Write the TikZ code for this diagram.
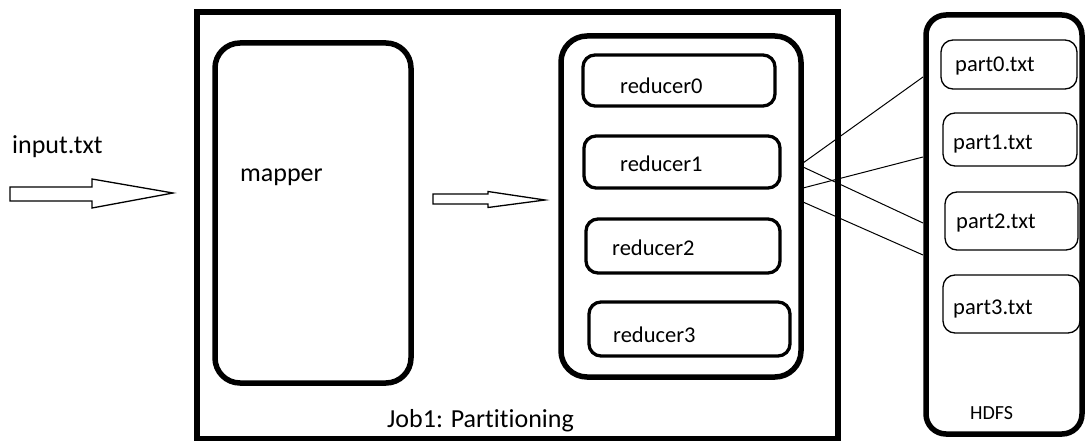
\documentclass[tikz,border=0pt]{standalone}
\usepackage{fontspec}
\setmainfont{Carlito}[Ligatures={NoCommon,NoContextual}]
\newcommand{\nolig}{\kern0pt}
\begin{document}
\begin{tikzpicture}[x=1pt,y=-1pt,
  bigbox/.style={draw=black,line width=5.5pt},
  midbox/.style={draw=black,line width=3.3pt,rounded corners=12pt},
  partbox/.style={draw=black,line width=1.3pt,rounded corners=12pt},
  txt/.style={anchor=base west,inner sep=0pt,text=black},
  bigtxt/.style={txt,font=\fontsize{26}{30}\selectfont},
  redtxt/.style={txt,font=\fontsize{22.5}{26}\selectfont},
  parttxt/.style={txt,font=\fontsize{22.5}{26}\selectfont},
  smalltxt/.style={txt,font=\fontsize{20}{23}\selectfont},
  fatarrow/.style={draw=black,line width=1.3pt,fill=white,line join=miter},
  link/.style={draw=black,line width=1pt}]
\useasboundingbox (0,0) rectangle (1088,441);
% outer job box
\draw[bigbox] (197,12) rectangle (838,439);
\node[bigtxt] (job) at (387,427) {Job1: Part\nolig it\nolig ioning};
% mapper
\draw[bigbox,rounded corners=25pt] (215,43) rectangle (411,383);
\node[bigtxt] (mapper) at (240,182) {mapper};
% reducer container
\draw[bigbox,rounded corners=26pt] (561,36) rectangle (801,377);
\node[midbox,minimum width=192pt,minimum height=51pt] (r0) at (679,80.5) {};
\node[midbox,minimum width=196pt,minimum height=52pt] (r1) at (682,162) {};
\node[midbox,minimum width=194pt,minimum height=54pt] (r2) at (683,246) {};
\node[midbox,minimum width=201pt,minimum height=54pt] (r3) at (689.5,329) {};
\node[redtxt] (r0t) at (620,94) {reducer0};
\node[redtxt] (r1t) at (620,172) {reducer1};
\node[redtxt] (r2t) at (612,255) {reducer2};
\node[redtxt] (r3t) at (613,342) {reducer3};
% HDFS container
\draw[bigbox,rounded corners=20pt] (926,15) rectangle (1082,434);
\node[partbox,minimum width=136pt,minimum height=49pt] (p0) at (1009,64.5) {};
\node[partbox,minimum width=134pt,minimum height=53pt] (p1) at (1010,139.5) {};
\node[partbox,minimum width=133pt,minimum height=58pt] (p2) at (1011.5,221) {};
\node[partbox,minimum width=137pt,minimum height=58pt] (p3) at (1011.5,304) {};
\node[parttxt] (p0t) at (955,72) {part0.txt};
\node[parttxt] (p1t) at (953,150) {part1.txt};
\node[parttxt] (p2t) at (956,229) {part2.txt};
\node[parttxt] (p3t) at (953,314) {part3.txt};
\node[smalltxt] (hdfs) at (970,419) {HDFS};
% input
\node[bigtxt] (input) at (12,154) {input.txt};
\draw[fatarrow] (10,187) -- (92,187) -- (92,179) -- (173,193) -- (92,208) -- (92,201) -- (10,201) -- cycle;
\draw[fatarrow] (433,194) -- (488,194) -- (488,191.5) -- (545,200) -- (488,207.5) -- (488,204) -- (433,204) -- cycle;
% links reducers -> HDFS
\coordinate (a1) at (803,163); \coordinate (b1) at (923,77);
\coordinate (a2) at (803,188); \coordinate (b2) at (923,157);
\coordinate (a3) at (803,167); \coordinate (b3) at (923,223);
\coordinate (a4) at (803,202); \coordinate (b4) at (923,255);
\draw[link] (a1) -- (b1);
\draw[link] (a2) -- (b2);
\draw[link] (a3) -- (b3);
\draw[link] (a4) -- (b4);
\end{tikzpicture}
\end{document}
